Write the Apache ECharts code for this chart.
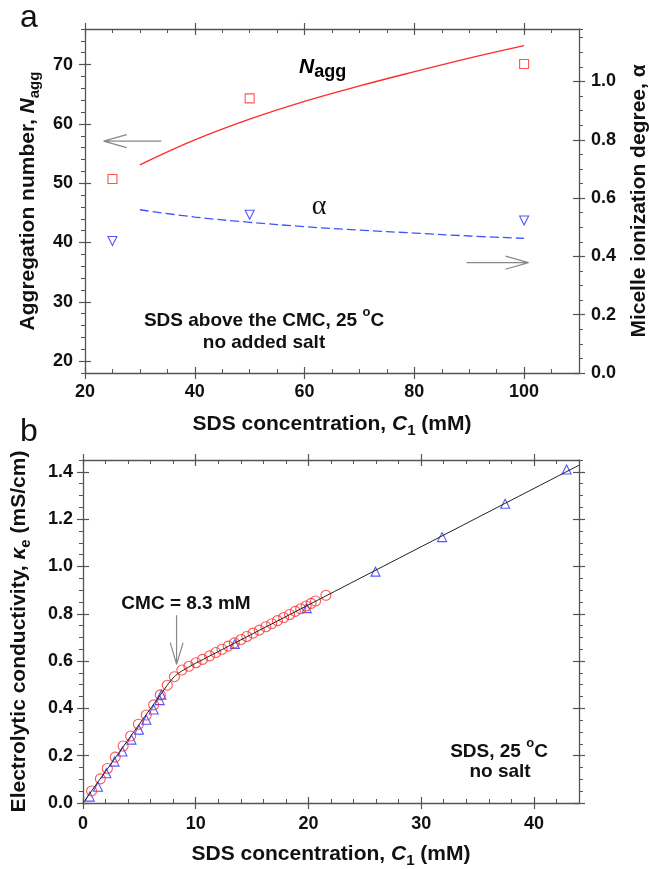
<!DOCTYPE html>
<html><head><meta charset="utf-8">
<script src="https://cdn.jsdelivr.net/npm/echarts@6/dist/echarts.min.js"></script>
<style>html,body{margin:0;padding:0;background:#fff}#c{width:649px;height:869px}</style>
</head><body><div id="c"></div>
<script>
// ---------- Panel a data ----------
const aXTicks = [20, 40, 60, 80, 100];
const aLeftTicks = [20, 30, 40, 50, 60, 70];
const aRightTicks = [0, 0.2, 0.4, 0.6, 0.8, 1.0];
const aNaggX = [25, 50, 100];
const aNaggY = [50.7, 64.3, 70.1];
const aAlphaX = [25, 50, 100];
const aAlphaY = [0.453, 0.543, 0.523];
const aNaggFitX = [30, 40, 50, 60, 70, 80, 90, 100];
const aNaggFitY = [53.1, 57.3, 60.8, 63.8, 66.4, 68.8, 71.1, 73.2];
const aAlphaFitX = [30, 40, 50, 60, 70, 80, 90, 100];
const aAlphaFitY = [0.560, 0.535, 0.517, 0.502, 0.490, 0.480, 0.470, 0.462];
// annotation arrows (data coordinates of left axis)
const aArrowLX = [33.9, 23.4, 27.6, 23.4, 27.6];
const aArrowLY = [57.1, 57.1, 58.2, 57.1, 56.0];
const aArrowRX = [89.5, 100.8, 96.6, 100.8, 96.6];
const aArrowRY = [36.6, 36.6, 37.7, 36.6, 35.5];

// ---------- Panel b data ----------
const bXTicks = [0, 10, 20, 30, 40];
const bYTicks = [0, 0.2, 0.4, 0.6, 0.8, 1.0, 1.2, 1.4];
const bCircX = [0.76, 1.54, 2.16, 2.86, 3.56, 4.22, 4.92, 5.61, 6.27, 6.86, 7.48,
  8.11, 8.77, 9.39, 10.02, 10.6, 11.23, 11.78, 12.33, 12.88, 13.43, 14.02, 14.53, 15.08,
  15.64, 16.22, 16.74, 17.25, 17.8, 18.32, 18.83, 19.31, 19.79, 20.23, 20.63, 21.55];
const bCircY = [0.051, 0.102, 0.146, 0.194, 0.241, 0.283, 0.333, 0.372, 0.415, 0.457, 0.498,
  0.534, 0.562, 0.578, 0.593, 0.607, 0.622, 0.636, 0.650, 0.663, 0.677, 0.691, 0.704, 0.718,
  0.731, 0.745, 0.758, 0.771, 0.784, 0.797, 0.810, 0.821, 0.833, 0.844, 0.854, 0.878];
const bTriX = [0.6, 1.33, 2.07, 2.8, 3.5, 4.3, 4.97, 5.62, 6.27, 6.8, 6.95, 13.47, 19.85, 25.95, 31.85, 37.45, 42.9];
const bTriY = [0.027, 0.069, 0.126, 0.175, 0.218, 0.268, 0.31, 0.352, 0.395, 0.435, 0.458, 0.672, 0.824, 0.978, 1.124, 1.265, 1.41];
const bFitX = [0, 7.6, 8.1, 8.6, 9.2, 10, 44];
const bFitY = [0, 0.506, 0.534, 0.553, 0.570, 0.591, 1.428];
const bArrowX = [8.3, 8.3, 7.74, 8.3, 8.88];
const bArrowY = [0.794, 0.586, 0.678, 0.586, 0.678];

// ---------- build ----------
const AX = '#555';
const FONT = "'Liberation Sans', Arial, sans-serif";
const RED = '#ff2b2b', BLUE = '#2b2bff';
const zip = (xs, ys) => xs.map((x, i) => [x, ys[i]]);

function base(grid, pos, min, max, step) {
  return { type: 'value', gridIndex: grid, position: pos, min, max, interval: step, silent: true,
    splitLine: { show: false }, axisLine: { show: false, onZero: false },
    axisTick: { show: false }, axisLabel: { show: false } };
}
function side(list, grid, pos, min, max, step, majors, minorInside, label, nameOpt) {
  const main = base(grid, pos, min, max, step);
  main.axisLine = { show: true, onZero: false, lineStyle: { color: AX, width: 1.3 } };
  main.axisTick = { show: true, inside: minorInside, length: 4, lineStyle: { color: AX, width: 1 } };
  if (label) {
    main.axisLabel = Object.assign({ show: true, customValues: majors, fontFamily: FONT,
      fontSize: 18, fontWeight: 'bold', color: '#111' }, label);
  }
  if (nameOpt) Object.assign(main, nameOpt);
  const idx = list.length;
  list.push(main);
  [true, false].forEach(ins => {
    const o = base(grid, pos, min, max, step);
    o.axisTick = { show: true, inside: ins, length: 6, customValues: majors, lineStyle: { color: AX, width: 1.2 } };
    list.push(o);
  });
  return idx;
}
const nameRich = {
  t: { fontFamily: FONT, fontSize: 21, fontWeight: 'bold', color: '#111', lineHeight: 24, verticalAlign: 'top' },
  i: { fontFamily: FONT, fontSize: 21, fontWeight: 'bold', fontStyle: 'italic', color: '#111', lineHeight: 24, verticalAlign: 'top' },
  s: { fontFamily: FONT, fontSize: 15, fontWeight: 'bold', color: '#111', lineHeight: 15, padding: [11, 0, 0, 0], verticalAlign: 'bottom' }
};
const f1 = v => v.toFixed(1);

const xAxes = [], yAxes = [];
const aX = side(xAxes, 0, 'bottom', 20, 110, 5, aXTicks, true, { margin: 10 },
  { name: '{t|SDS concentration, }{i|C}{s|1}{t| (mM)}', nameLocation: 'middle', nameGap: 41, nameTextStyle: { rich: nameRich } });
side(xAxes, 0, 'top', 20, 110, 5, aXTicks, true, null);
const aL = side(yAxes, 0, 'left', 18, 76, 2, aLeftTicks, false, { margin: 12 },
  { name: '{t|Aggregation number, }{i|N}{s|agg}', nameLocation: 'middle', nameRotate: 90, nameGap: 42, nameTextStyle: { rich: nameRich } });
const aR = side(yAxes, 0, 'right', 0, 1.18, 0.05, aRightTicks, false, { margin: 12, formatter: f1 },
  { name: '{t|Micelle ionization degree, α}', nameLocation: 'middle', nameRotate: 90, nameGap: 50, nameTextStyle: { rich: nameRich } });

const bX = side(xAxes, 1, 'bottom', 0, 44, 2, bXTicks, true, { margin: 12 },
  { name: '{t|SDS concentration, }{i|C}{s|1}{t| (mM)}', nameLocation: 'middle', nameGap: 41, nameTextStyle: { rich: nameRich } });
side(xAxes, 1, 'top', 0, 44, 2, bXTicks, true, null);
const bL = side(yAxes, 1, 'left', 0, 1.45, 0.05, bYTicks, false, { margin: 10, formatter: f1 },
  { name: '{t|Electrolytic conductivity, }{i|κ}{s|e}{t| (mS/cm)}', nameLocation: 'middle', nameRotate: 90, nameGap: 50, nameTextStyle: { rich: nameRich } });
side(yAxes, 1, 'right', 0, 1.45, 0.05, bYTicks, false, null);

const hollow = c => ({ color: 'rgba(0,0,0,0)', borderColor: c, borderWidth: 1.1 });
const arrowStyle = { color: '#888', width: 1.2 };

const series = [
  { type: 'line', xAxisIndex: aX, yAxisIndex: aL, data: zip(aNaggFitX, aNaggFitY), smooth: 0.4, symbol: 'none',
    lineStyle: { color: RED, width: 1.3 }, silent: true, z: 3 },
  { type: 'line', xAxisIndex: aX, yAxisIndex: aR, data: zip(aAlphaFitX, aAlphaFitY), smooth: 0.4, symbol: 'none',
    lineStyle: { color: '#3a55ff', width: 1.3, type: [9, 4] }, silent: true, z: 3 },
  { type: 'scatter', xAxisIndex: aX, yAxisIndex: aL, data: zip(aNaggX, aNaggY), symbol: 'rect', symbolSize: 9,
    itemStyle: hollow(RED), z: 4 },
  { type: 'scatter', xAxisIndex: aX, yAxisIndex: aR, data: zip(aAlphaX, aAlphaY), symbol: 'triangle', symbolRotate: 180,
    symbolSize: 9, itemStyle: hollow(BLUE), z: 4 },
  { type: 'line', xAxisIndex: aX, yAxisIndex: aL, data: zip(aArrowLX, aArrowLY), symbol: 'none', lineStyle: arrowStyle, silent: true },
  { type: 'line', xAxisIndex: aX, yAxisIndex: aL, data: zip(aArrowRX, aArrowRY), symbol: 'none', lineStyle: arrowStyle, silent: true },

  { type: 'scatter', xAxisIndex: bX, yAxisIndex: bL, data: zip(bTriX, bTriY), symbol: 'triangle', symbolSize: 9,
    itemStyle: hollow(BLUE), z: 3 },
  { type: 'scatter', xAxisIndex: bX, yAxisIndex: bL, data: zip(bCircX, bCircY), symbol: 'circle', symbolSize: 10,
    itemStyle: hollow(RED), z: 4 },
  { type: 'line', xAxisIndex: bX, yAxisIndex: bL, data: zip(bFitX, bFitY), smooth: 0.2, symbol: 'none',
    lineStyle: { color: '#222', width: 1 }, silent: true, z: 5 },
  { type: 'line', xAxisIndex: bX, yAxisIndex: bL, data: zip(bArrowX, bArrowY), symbol: 'none', lineStyle: arrowStyle, silent: true }
];

const txt = { fontFamily: FONT, fontWeight: 'bold', fill: '#111' };
const supRich = {
  m: { fontFamily: FONT, fontSize: 19, fontWeight: 'bold', color: '#111', lineHeight: 24, verticalAlign: 'bottom' },
  o: { fontFamily: FONT, fontSize: 13, fontWeight: 'bold', color: '#111', lineHeight: 14, verticalAlign: 'top' }
};
function label(x, y, text, extra) {
  return { type: 'text', x, y, silent: true,
    style: Object.assign({ text, textAlign: 'center', textVerticalAlign: 'middle', fontSize: 19 }, txt, extra || {}) };
}
const graphic = [
  { type: 'text', x: 29, y: 18, silent: true, style: { text: 'a', fontFamily: FONT, fontSize: 32, fill: '#111', textAlign: 'center', textVerticalAlign: 'middle' } },
  { type: 'text', x: 29, y: 432, silent: true, style: { text: 'b', fontFamily: FONT, fontSize: 32, fill: '#111', textAlign: 'center', textVerticalAlign: 'middle' } },
  label(264, 318, '{m|SDS above the CMC, 25 }{o|o}{m|C}', { rich: supRich }),
  label(264, 343, 'no added salt'),
  { type: 'text', x: 299, y: 57, silent: true, style: { text: '{n|N}{s|agg}', textAlign: 'left', textVerticalAlign: 'top',
    rich: {
      n: { fontFamily: FONT, fontSize: 21, fontWeight: 'bold', fontStyle: 'italic', color: '#111', lineHeight: 24, verticalAlign: 'top' },
      s: { fontFamily: FONT, fontSize: 18, fontWeight: 'bold', color: '#111', lineHeight: 18, padding: [11, 0, 0, 0], verticalAlign: 'bottom' }
    } } },
  { type: 'text', x: 319, y: 207, silent: true, style: { text: 'α', fontFamily: "'Liberation Serif', 'DejaVu Serif', serif", fontSize: 28, fill: '#111', textAlign: 'center', textVerticalAlign: 'middle' } },
  label(186, 604, 'CMC = 8.3 mM'),
  label(499, 749, '{m|SDS, 25 }{o|o}{m|C}', { rich: supRich }),
  label(500, 772, 'no salt')
];

const chart = echarts.init(document.getElementById('c'), null, { renderer: 'canvas' });
chart.setOption({
  backgroundColor: '#fff',
  animation: false,
  grid: [
    { left: 85, top: 29, width: 494, height: 344, outerBoundsMode: 'none', containLabel: false },
    { left: 83, top: 460, width: 496, height: 343, outerBoundsMode: 'none', containLabel: false }
  ],
  xAxis: xAxes,
  yAxis: yAxes,
  series,
  graphic
});
</script></body></html>
